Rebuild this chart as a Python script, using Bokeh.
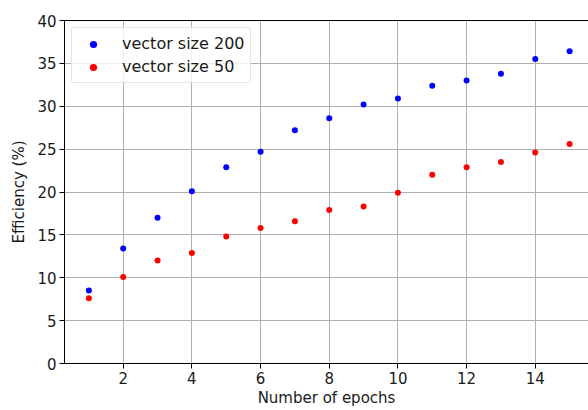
from bokeh.plotting import figure
from bokeh.models import Range1d, FixedTicker, LinearAxis, Legend, LegendItem
from bokeh.embed import file_html
from bokeh.resources import INLINE

epochs = list(range(1, 16))
size200 = [8.5, 13.4, 17.0, 20.1, 22.9, 24.7, 27.2, 28.6, 30.2, 30.9, 32.4, 33.0, 33.8, 35.5, 36.4]
size50 = [7.6, 10.1, 12.0, 12.9, 14.8, 15.8, 16.6, 17.9, 18.3, 19.9, 22.0, 22.9, 23.5, 24.6, 25.6]
x_ticks = [2, 4, 6, 8, 10, 12, 14]
y_ticks = [0, 5, 10, 15, 20, 25, 30, 35, 40]

FONT = "DejaVu Sans"
FS = "15px"

p = figure(width=588, height=410, output_backend="svg", toolbar_location=None,
           x_range=Range1d(0.29, 15.55), y_range=Range1d(0, 40),
           min_border_left=64, min_border_right=0, min_border_top=20, min_border_bottom=47)
p.outline_line_color = None
p.background_fill_color = "white"
p.border_fill_color = "white"

r1 = p.scatter(epochs, size200, size=6, color="#0000ff", line_color=None)
r2 = p.scatter(epochs, size50, size=6, color="#ff0000", line_color=None)

for ax in (p.xaxis[0], p.yaxis[0]):
    ax.axis_line_color = "black"
    ax.axis_line_width = 1
    ax.major_tick_out = 5
    ax.major_tick_in = 0
    ax.minor_tick_out = 0
    ax.minor_tick_in = 0
    ax.major_tick_line_color = "black"
    ax.major_label_text_font = FONT
    ax.major_label_text_font_size = FS
    ax.major_label_text_color = "#1a1a1a"
    ax.axis_label_text_font = FONT
    ax.axis_label_text_font_size = FS
    ax.axis_label_text_font_style = "normal"
    ax.axis_label_text_color = "#1a1a1a"

p.xaxis[0].ticker = FixedTicker(ticks=x_ticks)
p.yaxis[0].ticker = FixedTicker(ticks=y_ticks)
p.xaxis[0].axis_label = "Number of epochs"
p.yaxis[0].axis_label = "Efficiency (%)"
p.xaxis[0].major_label_standoff = 3
p.yaxis[0].major_label_standoff = 3
p.xaxis[0].axis_label_standoff = 2
p.yaxis[0].axis_label_standoff = 6

top = LinearAxis(ticker=FixedTicker(ticks=[]), major_label_text_font_size="0px",
                 major_tick_out=0, major_tick_in=0, minor_tick_out=0, minor_tick_in=0,
                 axis_line_color="black", major_label_standoff=0)
p.add_layout(top, "above")

for g in (p.xgrid[0], p.ygrid[0]):
    g.grid_line_color = "#b0b0b0"
    g.grid_line_width = 1
p.xgrid[0].ticker = FixedTicker(ticks=x_ticks)
p.ygrid[0].ticker = FixedTicker(ticks=y_ticks)

legend = Legend(items=[LegendItem(label="vector size 200", renderers=[r1]),
                       LegendItem(label="vector size 50", renderers=[r2])],
                location="top_left")
legend.label_text_font = FONT
legend.label_text_font_size = "16px"
legend.label_text_color = "#1a1a1a"
legend.border_line_color = "#cccccc"
legend.border_line_width = 1
legend.background_fill_alpha = 0.8
legend.margin = 7
legend.padding = 6
legend.spacing = 4
legend.glyph_width = 30
legend.glyph_height = 18
legend.label_height = 18
legend.label_standoff = 14
legend.border_radius = 3
p.add_layout(legend)

open("out.html", "w").write(file_html(p, INLINE))
